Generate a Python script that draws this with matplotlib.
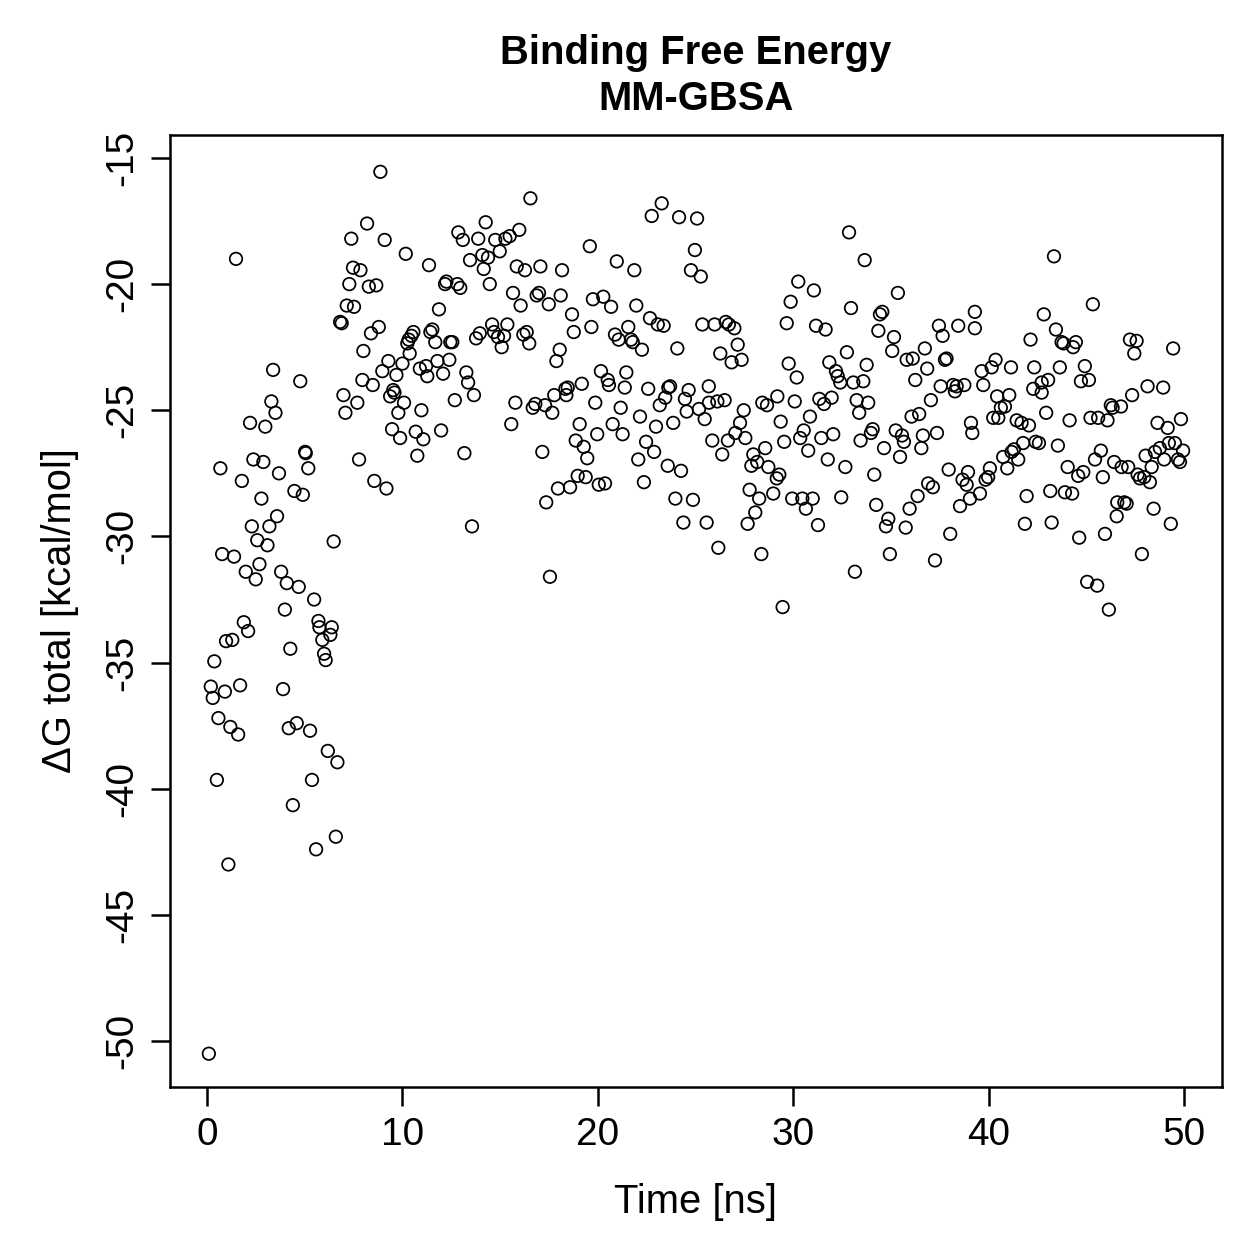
import matplotlib
matplotlib.use("Agg")
import matplotlib.pyplot as plt

plt.rcParams['font.family'] = ['Liberation Sans', 'DejaVu Sans']
plt.rcParams['axes.unicode_minus'] = False

# (time [ns], dG total [kcal/mol])
time_ns = [
    1.48, 3.38, 4.77, 3.29, 3.50, 2.20, 2.98, 5.02, 5.05, 0.68, 2.37, 2.88, 3.68, 5.18, 1.78, 4.47,
    4.90, 2.78, 3.58, 2.29, 3.19, 2.57, 3.09, 6.48, 0.77, 1.38, 2.68, 1.98, 2.49, 3.79, 4.08, 4.69,
    5.48, 3.98, 1.88, 2.10, 0.97, 1.29, 4.26, 5.70, 5.75, 6.38, 6.31, 5.90, 5.99, 6.07, 0.37, 0.19,
    0.29, 0.91, 1.69, 3.89, 0.58, 1.19, 1.59, 4.18, 4.59, 5.27, 6.18, 6.67, 0.50, 5.37, 4.39, 6.59,
    5.58, 1.09, 0.09,
    7.38, 7.47, 7.85, 7.28, 7.15, 7.52, 6.81, 6.89, 8.00, 7.95, 6.98, 7.69, 7.08, 7.78,
    8.87, 16.55, 8.19, 9.09, 14.26, 12.86, 13.09, 13.88, 14.75, 15.27, 15.49, 15.98, 10.17, 11.36,
    13.46, 14.09, 14.38, 14.98, 14.16, 15.85, 16.27, 17.06, 18.17, 8.28, 8.66, 12.25, 12.18, 12.81,
    12.96, 14.47, 15.66, 16.05, 16.87, 16.99, 17.49, 18.10, 11.87, 8.79, 8.39, 10.56, 10.46, 10.32,
    10.25, 10.37, 11.53, 11.43, 11.68, 12.45, 12.55, 14.59, 15.37, 13.96, 13.77, 14.69, 14.89, 15.20,
    15.08, 16.19, 16.36, 16.49, 18.05, 17.88, 9.28, 8.97, 9.69, 10.00, 10.89, 11.21, 11.27, 11.79,
    12.40, 12.08, 13.27, 13.36, 8.48, 9.53,
    9.37, 9.59, 10.08, 9.79, 10.97, 12.68, 13.66, 9.47, 9.88, 10.68, 11.07, 11.98, 10.76, 13.17,
    8.56, 9.18, 13.56, 15.78, 16.67, 16.80, 17.30, 17.67, 17.77, 18.34, 15.57, 17.16, 17.96, 17.36,
    17.55,
    23.27, 22.76, 24.16, 25.08, 19.59, 24.97, 24.77, 25.27, 20.97, 21.87, 19.75, 20.28, 20.68, 21.97,
    18.68, 18.77, 19.67, 22.67, 23.07, 23.37, 25.35, 25.98, 26.55, 26.71, 26.99, 27.16, 26.27, 26.85,
    27.36, 21.56, 20.88, 21.07, 21.70, 21.79, 22.26, 24.07, 20.16, 21.46, 19.18, 20.51, 18.46, 20.57,
    21.38, 22.58, 23.70, 23.61, 24.65, 25.68,
    18.39, 24.46, 25.69, 26.12, 26.49, 27.47, 28.42, 28.66, 19.87, 21.17, 23.45, 23.17, 24.55, 25.18,
    25.47, 19.07, 20.76, 21.27, 22.16, 22.98, 23.86, 19.97, 18.87, 19.28, 19.46, 22.47, 22.88, 22.07,
    23.58, 24.26, 25.86, 26.37, 26.66, 27.04, 27.28, 27.55, 27.96, 27.86, 28.16, 28.57, 28.73, 18.97,
    19.38, 18.58, 20.05, 20.37, 22.36, 23.97, 24.87, 24.38, 25.57, 26.17, 27.77, 28.26, 28.06, 27.67,
    28.37,
    32.86, 33.66, 30.26, 31.06, 29.87, 29.67, 31.17, 31.66, 32.96, 35.36, 34.56, 34.44, 34.36, 35.16,
    35.07, 37.46, 37.65, 38.45, 39.30, 39.30, 32.75, 29.77, 30.18, 31.85, 32.19, 32.28, 32.41, 33.08,
    33.59, 33.76, 35.81, 36.12, 36.74, 36.86, 36.25, 37.77, 37.85, 37.55, 38.19, 38.37, 38.76, 38.28,
    29.19, 30.08, 31.34, 31.58, 31.97, 33.25, 33.84, 33.38, 37.05, 36.06, 36.45, 29.36, 30.86, 30.54,
    30.36, 30.77, 31.44, 32.05, 29.54, 31.77, 32.67, 34.07, 33.98, 33.45, 34.65, 35.25, 35.57, 35.67,
    35.47, 36.64, 36.56, 37.36, 39.10, 39.17, 34.15, 37.96, 38.95, 38.67, 38.88, 36.91, 37.15, 29.29,
    29.16, 28.98, 29.95, 30.47, 31.00, 30.65, 32.46, 34.25, 36.37, 35.96, 38.54, 39.05, 34.87, 34.75,
    35.76, 31.27, 38.04, 34.95, 37.26, 33.16, 29.46,
    43.35, 45.34, 42.83, 43.45, 42.15, 43.74, 43.84, 44.47, 44.33, 47.24, 47.58, 47.46, 49.45, 40.36,
    40.16, 39.65, 41.15, 42.34, 43.65, 44.93, 39.73, 42.29, 42.72, 43.05, 44.73, 45.14, 48.14, 48.94,
    40.44, 41.06, 40.84, 40.63, 42.72, 47.35, 46.26, 46.35, 46.78, 42.95, 40.24, 40.50, 41.44, 41.69,
    42.07, 44.15, 45.22, 45.61, 46.09, 48.65, 49.17, 49.85, 41.77, 41.30, 41.18, 40.75, 41.52, 40.96,
    42.41, 42.58, 43.55, 45.75, 45.45, 46.43, 46.81, 47.15, 44.05, 44.59, 44.85, 45.85, 48.04, 48.52,
    48.77, 49.23, 49.54, 49.96, 48.99, 49.70, 49.80, 48.35, 47.63, 47.75, 47.97, 48.26, 39.85, 39.98,
    40.07, 39.56, 41.95, 43.16, 43.91, 44.28, 46.59, 46.95, 47.07, 46.56, 48.45, 49.33, 41.86, 43.23,
    44.64, 45.96, 47.85, 45.05, 45.56, 46.16,
]

dg_total = [
    -19.0, -23.4, -23.85, -24.65, -25.1, -25.5, -25.65, -26.65, -26.7, -27.3, -26.95, -27.05, -27.5, -27.3, -27.8, -28.2,
    -28.35, -28.5, -29.2, -29.6, -29.6, -30.15, -30.35, -30.2, -30.7, -30.8, -31.1, -31.4, -31.7, -31.4, -31.85, -32.0,
    -32.5, -32.9, -33.4, -33.75, -34.15, -34.1, -34.45, -33.35, -33.6, -33.6, -33.9, -34.1, -34.65, -34.9, -34.95, -35.95,
    -36.4, -36.15, -35.9, -36.05, -37.2, -37.55, -37.85, -37.6, -37.4, -37.7, -38.5, -38.95, -39.65, -39.65, -40.65, -41.9,
    -42.4, -43.0, -50.5,
    -18.2, -19.35, -19.45, -20.0, -20.85, -20.9, -21.5, -21.55, -22.65, -23.8, -24.4, -24.7, -25.1, -26.95,
    -15.55, -16.6, -17.6, -18.25, -17.55, -17.95, -18.25, -18.2, -18.25, -18.2, -18.1, -17.85, -18.8, -19.25,
    -19.05, -18.85, -18.95, -18.7, -19.4, -19.3, -19.45, -19.3, -19.45, -20.1, -20.05, -19.9, -20.0, -20.0,
    -20.15, -20.0, -20.35, -20.85, -20.45, -20.35, -20.8, -20.45, -21.0, -21.7, -21.95, -21.9, -22.05, -22.2,
    -22.35, -22.75, -21.8, -21.9, -22.3, -22.3, -22.3, -21.6, -21.6, -21.95, -22.15, -21.9, -22.1, -22.05,
    -22.5, -22.0, -21.9, -22.35, -22.6, -23.05, -23.05, -23.45, -23.6, -23.15, -23.35, -23.25, -23.65, -23.05,
    -23.0, -23.55, -23.5, -23.9, -24.0, -24.2,
    -24.45, -24.3, -24.7, -25.1, -25.0, -24.6, -24.4, -25.75, -26.1, -25.85, -26.15, -25.8, -26.8, -26.7,
    -27.8, -28.1, -29.6, -24.7, -24.9, -24.75, -24.8, -25.1, -24.4, -24.15, -25.55, -26.65, -28.1, -28.65,
    -31.6,
    -16.8, -17.3, -17.35, -17.4, -18.5, -18.65, -19.45, -19.7, -19.1, -19.45, -20.6, -20.5, -20.9, -20.85,
    -21.2, -21.9, -21.7, -21.35, -21.6, -21.65, -21.6, -21.6, -21.5, -21.6, -21.75, -22.4, -22.75, -23.1,
    -23.0, -21.7, -22.0, -22.2, -22.2, -22.3, -22.6, -22.55, -23.45, -23.5, -23.95, -23.8, -24.1, -24.0,
    -24.1, -24.15, -24.05, -24.1, -24.2, -24.05,
    -24.4, -24.55, -24.7, -24.65, -24.6, -25.0, -24.7, -24.8, -24.7, -24.9, -24.5, -24.8, -25.05, -24.95,
    -25.35, -25.55, -25.55, -25.95, -25.25, -25.65, -25.5, -25.95, -26.2, -26.45, -26.9, -26.25, -26.65, -26.95,
    -27.2, -27.4, -26.2, -26.75, -26.2, -25.9, -25.5, -26.1, -26.75, -27.2, -27.05, -26.5, -27.25, -27.6,
    -27.65, -28.05, -27.95, -27.9, -27.85, -28.5, -28.55, -29.45, -29.45, -30.45, -28.15, -28.5, -29.05, -29.5,
    -30.7,
    -17.95, -19.05, -19.9, -20.25, -20.7, -21.55, -21.65, -21.8, -20.95, -20.35, -21.1, -21.2, -21.85, -22.1,
    -22.65, -21.65, -22.05, -21.65, -21.1, -21.75, -22.7, -23.15, -23.7, -23.1, -23.45, -23.65, -23.9, -23.9,
    -23.85, -23.2, -23.0, -22.95, -22.55, -23.35, -23.8, -23.0, -22.95, -24.05, -24.0, -24.05, -24.0, -24.25,
    -24.45, -24.65, -24.55, -24.75, -24.5, -24.6, -24.7, -25.1, -24.6, -25.25, -25.15, -25.45, -25.25, -25.8,
    -26.1, -26.6, -26.1, -25.95, -26.25, -26.95, -27.25, -25.75, -25.9, -26.2, -26.5, -25.8, -26.0, -26.25,
    -26.85, -26.0, -26.5, -25.9, -25.5, -25.9, -27.55, -27.35, -27.45, -27.75, -27.95, -27.9, -28.05, -27.55,
    -27.7, -28.3, -28.5, -28.5, -28.5, -28.9, -28.45, -28.75, -28.4, -28.9, -28.8, -28.5, -29.3, -29.6,
    -29.65, -29.55, -29.9, -30.7, -30.95, -31.4, -32.8,
    -18.9, -20.8, -21.2, -21.8, -22.2, -22.3, -22.35, -22.3, -22.5, -22.2, -22.25, -22.75, -22.55, -23.0,
    -23.3, -23.45, -23.3, -23.3, -23.3, -23.25, -24.0, -24.15, -23.9, -23.8, -23.85, -23.8, -24.05, -24.1,
    -24.45, -24.4, -24.85, -24.9, -24.3, -24.4, -24.8, -24.9, -24.85, -25.1, -25.3, -25.3, -25.4, -25.5,
    -25.6, -25.4, -25.3, -25.3, -25.4, -25.5, -25.7, -25.35, -26.3, -26.55, -26.65, -26.85, -26.95, -27.3,
    -26.25, -26.3, -26.4, -26.6, -26.95, -27.05, -27.25, -27.25, -27.25, -27.6, -27.45, -27.65, -26.8, -26.65,
    -26.5, -26.3, -26.3, -26.6, -26.95, -26.95, -27.05, -27.25, -27.55, -27.7, -27.65, -27.85, -27.75, -27.65,
    -27.3, -28.3, -28.4, -28.2, -28.25, -28.3, -28.65, -28.65, -28.7, -29.2, -28.9, -29.5, -29.5, -29.45,
    -30.05, -29.9, -30.7, -31.8, -31.95, -32.9,
]

x_ticks = [0, 10, 20, 30, 40, 50]
y_ticks = [-50, -45, -40, -35, -30, -25, -20, -15]

fig = plt.figure(figsize=(1259 / 180, 1259 / 180), dpi=180)
ax = fig.add_axes([0.135, 0.1366, 0.8356, 0.7562])

ax.scatter(time_ns, dg_total, s=25, facecolors='none', edgecolors='black', linewidths=0.7)

ax.set_xlim(-1.9, 51.95)
ax.set_ylim(-51.82, -14.09)
ax.set_xticks(x_ticks)
ax.set_yticks(y_ticks)
ax.tick_params(direction='out', length=7.5, width=1.0, labelsize=15.5, pad=4.5)
for lab in ax.get_yticklabels():
    lab.set_rotation(90)
    lab.set_va('center')
for sp in ax.spines.values():
    sp.set_linewidth(1.0)

ax.set_xlabel('Time [ns]', fontsize=16, labelpad=12)
ax.set_ylabel('ΔG total [kcal/mol]', fontsize=16, labelpad=10)
ax.set_title('Binding Free Energy\nMM-GBSA', fontsize=16, fontweight='bold', pad=10, linespacing=1.25)

fig.savefig('out.png', dpi=180)
